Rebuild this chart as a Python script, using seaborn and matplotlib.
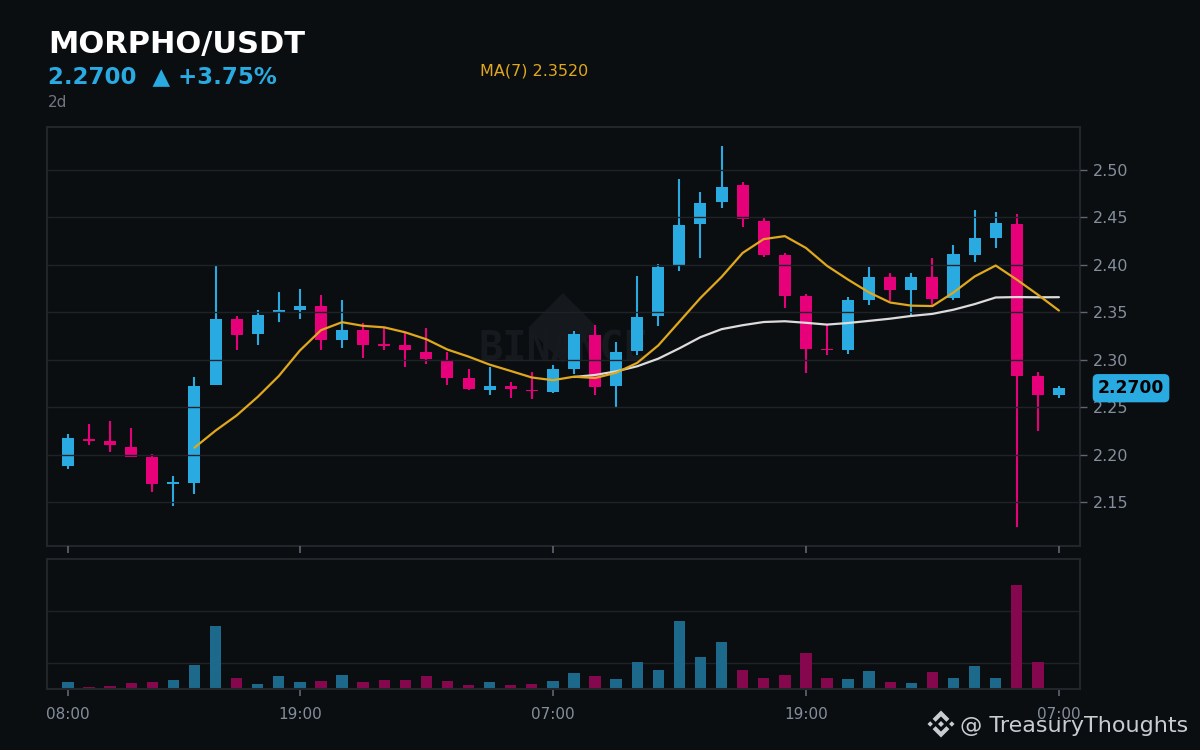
import numpy as np
import pandas as pd
import matplotlib
matplotlib.use("Agg")
import matplotlib.pyplot as plt
from matplotlib.patches import Polygon
import seaborn as sns

# === Data: MORPHO/USDT hourly candles, 08:00 day 1 -> 07:00 day 3 ===
opens = [2.188, 2.216, 2.214, 2.208, 2.198, 2.169, 2.170, 2.273, 2.343, 2.327,
         2.350, 2.352, 2.357, 2.321, 2.331, 2.316, 2.316, 2.308, 2.300, 2.281,
         2.268, 2.272, 2.268, 2.266, 2.290, 2.326, 2.272, 2.309, 2.346, 2.400,
         2.443, 2.466, 2.484, 2.446, 2.410, 2.367, 2.311, 2.310, 2.363, 2.387,
         2.373, 2.387, 2.365, 2.410, 2.428, 2.443, 2.283, 2.263]
highs = [2.222, 2.232, 2.235, 2.228, 2.201, 2.177, 2.282, 2.399, 2.346, 2.352,
         2.371, 2.375, 2.368, 2.363, 2.339, 2.335, 2.328, 2.333, 2.308, 2.290,
         2.292, 2.277, 2.287, 2.294, 2.330, 2.337, 2.319, 2.388, 2.401, 2.491,
         2.477, 2.525, 2.487, 2.450, 2.413, 2.369, 2.337, 2.366, 2.398, 2.391,
         2.391, 2.407, 2.421, 2.458, 2.456, 2.454, 2.287, 2.272]
lows = [2.185, 2.210, 2.203, 2.197, 2.161, 2.146, 2.159, 2.273, 2.310, 2.316,
        2.340, 2.343, 2.310, 2.312, 2.302, 2.310, 2.292, 2.296, 2.273, 2.268,
        2.263, 2.260, 2.259, 2.265, 2.285, 2.263, 2.250, 2.305, 2.336, 2.394,
        2.407, 2.460, 2.440, 2.408, 2.354, 2.286, 2.305, 2.306, 2.358, 2.362,
        2.347, 2.358, 2.363, 2.403, 2.418, 2.124, 2.225, 2.260]
closes = [2.217, 2.214, 2.210, 2.198, 2.169, 2.171, 2.272, 2.343, 2.326, 2.347,
          2.352, 2.357, 2.321, 2.331, 2.316, 2.315, 2.310, 2.301, 2.281, 2.269,
          2.272, 2.269, 2.267, 2.290, 2.327, 2.271, 2.308, 2.345, 2.398, 2.442,
          2.465, 2.482, 2.448, 2.410, 2.367, 2.311, 2.310, 2.363, 2.387, 2.374,
          2.387, 2.364, 2.411, 2.428, 2.444, 2.283, 2.263, 2.270]
volumes = [0.141, 0.045, 0.064, 0.122, 0.141, 0.179, 0.468, 1.218, 0.218, 0.103,
           0.256, 0.141, 0.160, 0.276, 0.141, 0.179, 0.179, 0.256, 0.160, 0.083,
           0.141, 0.083, 0.103, 0.160, 0.314, 0.256, 0.199, 0.526, 0.372, 1.314,
           0.622, 0.910, 0.372, 0.218, 0.276, 0.699, 0.218, 0.199, 0.353, 0.141,
           0.122, 0.333, 0.218, 0.449, 0.218, 2.006, 0.526, 0.0]

time_tick_pos = [0, 11, 23, 35, 47]
time_tick_labels = ["08:00", "19:00", "07:00", "19:00", "07:00"]
price_ticks = [2.15, 2.20, 2.25, 2.30, 2.35, 2.40, 2.45, 2.50]

# === Colours ===
bg = "#0b0e11"
grid_c = "#1f2328"
spine_c = "#22262b"
up_c = "#29abe2"
down_c = "#e6007a"
vol_up_c = "#1c698c"
vol_down_c = "#85074d"
ma7_c = "#e0a81c"
ma25_c = "#dcdcdc"
tick_c = "#848e9c"
credit_c = "#c9cdd2"

df = pd.DataFrame({"open": opens, "high": highs, "low": lows,
                   "close": closes, "volume": volumes})
df["idx"] = np.arange(len(df))
df["dir"] = np.where(df["close"] >= df["open"], "up", "down")
df["ma7"] = df["close"].rolling(7).mean()
df["ma25"] = df["close"].rolling(25).mean()

sns.set_theme(style="dark", rc={
    "figure.facecolor": bg, "axes.facecolor": bg, "savefig.facecolor": bg,
    "axes.edgecolor": spine_c, "grid.color": grid_c,
    "xtick.color": "#5e6673", "ytick.color": "#5e6673",
})
plt.rcParams["font.family"] = ["DejaVu Sans"]

fig = plt.figure(figsize=(12, 7.5), dpi=100)
ax = fig.add_axes([0.0394, 0.2724, 0.8606, 0.5579])
ax_vol = fig.add_axes([0.0394, 0.0809, 0.8606, 0.1737])

# watermark behind the candles
ax.add_patch(Polygon([(0.4994, 0.604), (0.5333, 0.5203), (0.4994, 0.4366), (0.4655, 0.5203)],
                     closed=True, transform=ax.transAxes, facecolor="#15181c",
                     edgecolor="none", zorder=0))
ax.text(0.4994, 0.47, "BINANCE", transform=ax.transAxes, ha="center", va="center",
        fontsize=29, fontweight="bold", family="DejaVu Sans Mono", color="#16191d", zorder=0.5)

# === Candles ===
colors = [up_c if d == "up" else down_c for d in df["dir"]]
body_low = np.minimum(df["open"], df["close"])
body_h = np.maximum(np.abs(df["close"] - df["open"]), 0.0015)
ax.vlines(df["idx"], df["low"], df["high"], colors=colors, linewidth=1.5, zorder=1)
ax.bar(df["idx"], body_h, bottom=body_low, width=0.57, color=colors, linewidth=0, zorder=1.5)

# moving averages
sns.lineplot(data=df, x="idx", y="ma25", ax=ax, color=ma25_c, linewidth=1.6, zorder=3)
sns.lineplot(data=df, x="idx", y="ma7", ax=ax, color=ma7_c, linewidth=1.6, zorder=3)

ax.set_xlim(-0.98, 48.0)
ax.set_ylim(2.104, 2.545)
ax.set_axisbelow(False)
ax.grid(axis="y", color=grid_c, linewidth=1.0)
ax.grid(axis="x", visible=False)
ax.yaxis.tick_right()
ax.set_yticks(price_ticks)
ax.set_yticklabels([f"{p:.2f}" for p in price_ticks])
ax.set_xticks(time_tick_pos)
ax.set_xticklabels([])
ax.tick_params(axis="y", length=5, width=1, pad=4, labelsize=11.5, labelcolor=tick_c,
               colors="#5e6673", right=True, left=False)
ax.tick_params(axis="y", labelcolor=tick_c)
ax.tick_params(axis="x", length=5, width=1.2, bottom=True)
ax.set_xlabel("")
ax.set_ylabel("")
for s in ax.spines.values():
    s.set_color(spine_c)
    s.set_linewidth(1.5)

# last price tag
ax.text(1.0494, closes[-1], f"{closes[-1]:.4f}", transform=ax.get_yaxis_transform(),
        ha="center", va="center", fontsize=12.3, fontweight="bold", color="#000000",
        bbox=dict(boxstyle="round,pad=0.3,rounding_size=0.3", facecolor=up_c, edgecolor="none"),
        zorder=5, clip_on=False)

# === Volume ===
sns.barplot(data=df, x="idx", y="volume", hue="dir", palette={"up": vol_up_c, "down": vol_down_c},
            native_scale=True, dodge=False, width=0.54, saturation=1, legend=False,
            linewidth=0, ax=ax_vol)
ax_vol.set_xlim(-0.98, 48.0)
ax_vol.set_ylim(0, 2.5)
ax_vol.set_axisbelow(True)
ax_vol.set_yticks([0.5, 1.5])
ax_vol.set_yticklabels([])
ax_vol.tick_params(axis="y", length=0)
ax_vol.grid(axis="y", color=grid_c, linewidth=1.0)
ax_vol.grid(axis="x", visible=False)
ax_vol.set_xticks(time_tick_pos)
ax_vol.set_xticklabels(time_tick_labels)
ax_vol.tick_params(axis="x", length=5, width=1.2, bottom=True, pad=8,
                   labelsize=11, labelcolor=tick_c)
ax_vol.set_xlabel("")
ax_vol.set_ylabel("")
for s in ax_vol.spines.values():
    s.set_color(spine_c)
    s.set_linewidth(1.5)

# === Header ===
fig.text(0.040, 0.929, "MORPHO/USDT", fontsize=22, fontweight="bold", color="white", va="baseline")
fig.text(0.040, 0.889, "2.2700  ▲ +3.75%", fontsize=16.5, fontweight="bold", color=up_c, va="baseline")
fig.text(0.040, 0.857, "2d", fontsize=11, color="#6f7682", va="baseline")
fig.text(0.400, 0.8987, "MA(7) 2.3520", fontsize=11.5, color=ma7_c, va="baseline")

# === Credit (bottom right) ===
over = fig.add_axes([0, 0, 1, 1], zorder=10)
over.set_xlim(0, 1200)
over.set_ylim(750, 0)
over.axis("off")
over.patch.set_alpha(0)

# small exchange logo made of diamonds and chevrons
cx, cy, r = 941, 724, 13.5
logo_shapes = [
    [(0, -0.22), (0.22, 0), (0, 0.22), (-0.22, 0)],
    [(-0.8, -0.2), (-0.6, 0), (-0.8, 0.2), (-1.0, 0)],
    [(0.8, -0.2), (1.0, 0), (0.8, 0.2), (0.6, 0)],
    [(0, -1.0), (0.62, -0.38), (0.4, -0.16), (0, -0.56), (-0.4, -0.16), (-0.62, -0.38)],
    [(0, 1.0), (0.62, 0.38), (0.4, 0.16), (0, 0.56), (-0.4, 0.16), (-0.62, 0.38)],
]
for shape in logo_shapes:
    over.add_patch(Polygon([(cx + r * px, cy + r * py) for px, py in shape], closed=True,
                           facecolor=credit_c, edgecolor="none"))
fig.text(960 / 1200, 1 - 731.5 / 750, "@ TreasuryThoughts", fontsize=16, color=credit_c, va="baseline")

fig.savefig("out.png", dpi=100)
